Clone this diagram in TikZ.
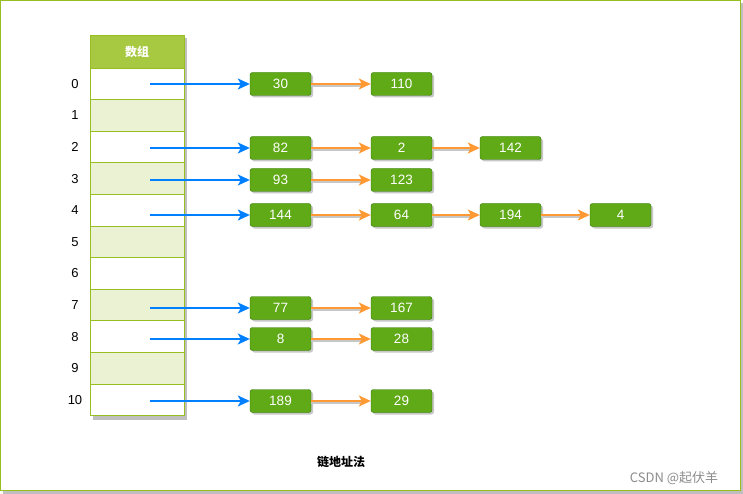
\documentclass[tikz,border=0pt]{standalone}
\usepackage{fontspec}
\setmainfont{Liberation Sans}
\newfontfamily\cjk{Noto Sans CJK SC}
\usetikzlibrary{arrows.meta,shadows}
\definecolor{hdrgreen}{HTML}{A7C942}
\definecolor{linegreen}{HTML}{98BF21}
\definecolor{altrow}{HTML}{EAF2D3}
\definecolor{itemgreen}{HTML}{60A917}
\definecolor{itemline}{HTML}{2D7600}
\definecolor{ptrblue}{HTML}{007FFF}
\definecolor{nextorange}{HTML}{FF9933}
\tikzset{
  cell/.style={draw=linegreen, line width=0.8pt, minimum width=94pt, minimum height=31.6pt, inner sep=0pt},
  item/.style={draw=itemline, fill=itemgreen, rounded corners=2.5pt, minimum width=61pt, minimum height=23pt, inner sep=0pt, text=white, font=\fontsize{13.5}{13.5}\selectfont,
    drop shadow={shadow xshift=2pt, shadow yshift=-2pt, fill=black!22, opacity=1}},
  ptr/.style={ptrblue, line width=1.4pt, -{Stealth[length=12pt,width=11pt,inset=3pt]}},
  nxt/.style={nextorange, line width=1.4pt, -{Stealth[length=12pt,width=11pt,inset=3pt]}},
  nxtshadow/.style={black!22, line width=1.4pt}
}
\begin{document}
\begin{tikzpicture}[x=1pt,y=-1pt]
\useasboundingbox (0,0) rectangle (743,494);
% frame
\fill[black!25] (3,3) rectangle (743,494);
\draw[fill=white, draw=linegreen, line width=1pt] (0.5,0.5) rectangle (740,490.5);
% array
\pgfmathsetmacro\rowh{31.6}
\fill[black!25] (93,38) rectangle (187,419.6);
\node[cell, fill=hdrgreen, minimum height=33pt, text=white, font=\cjk\bfseries\fontsize{12}{12}\selectfont] (head) at (137,51.5) {数组};
\foreach \i in {0,...,10} {
  \pgfmathsetmacro\cy{68+\rowh*\i+\rowh/2}
  \ifodd\i \def\cfill{altrow}\else\def\cfill{white}\fi
  \node[cell, fill=\cfill] (c\i) at (137,\cy) {};
  \node[font=\fontsize{13}{13}\selectfont] (n\i) at (75,\cy) {\i};
}
% chains
\foreach \r/\y/\vals in {0/84/{30,110}, 2/148/{82,2,142}, 3/180/{93,123}, 4/215/{144,64,194,4}, 7/308/{77,167}, 8/339/{8,28}, 10/401/{189,29}} {
  \coordinate (s\r) at (150,\y);
  \foreach \v [count=\k] in \vals {
    \pgfmathsetmacro\cx{\k==1 ? 280.5 : (\k==2 ? 401.5 : (\k==3 ? 510.5 : 620.5))}
    \node[item] (e\r-\k) at (\cx,\y) {\v};
  }
  \draw[ptr] (s\r) -- (e\r-1.west);
  \foreach \v [count=\k] in \vals {
    \ifnum\k>1
      \pgfmathtruncatemacro\p{\k-1}
      \draw[nxtshadow] ([yshift=-2pt]e\r-\p.east) -- ([xshift=-10pt,yshift=-2pt]e\r-\k.west);
      \draw[nxt] (e\r-\p.east) -- (e\r-\k.west);
    \fi
  }
}
% caption
\node[font=\cjk\bfseries\fontsize{12}{12}\selectfont] (title) at (341,462) {链地址法};
\node[font=\cjk\fontsize{13}{13}\selectfont, text=black!45] (mark) at (674,478) {CSDN @起伏羊};
\end{tikzpicture}
\end{document}
